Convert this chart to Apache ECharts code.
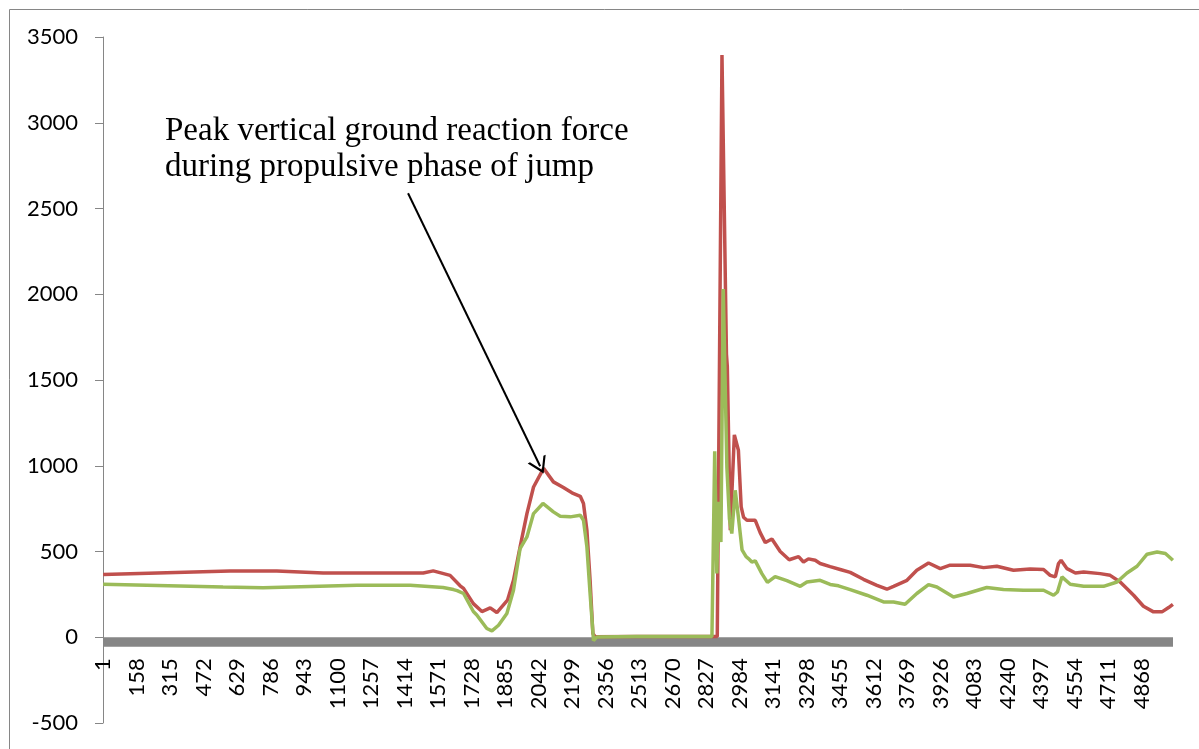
<!DOCTYPE html>
<html>
<head>
<meta charset="utf-8">
<script src="https://cdn.jsdelivr.net/npm/echarts@6/dist/echarts.min.js"></script>
<style>html,body{margin:0;padding:0;background:#fff}#c{width:1199px;height:749px}</style>
</head>
<body>
<div id="c"></div>
<script>
// sample count on category axis (samples 1..N)
const sampleCount = 5014;
const categories = Array.from({length: sampleCount}, (_, i) => String(i + 1));
const tickLabels = ['1','158','315','472','629','786','943','1100','1257','1414','1571','1728','1885','2042','2199','2356','2513','2670','2827','2984','3141','3298','3455','3612','3769','3926','4083','4240','4397','4554','4711','4868'];
const yTicks = {min: -500, max: 3500, step: 500};

// [sample index (0-based), force]
const redSeries = [
[0,366],[595,387],[814,387],[1031,375],[1500,375],[1547,387],[1626,361],[1673,300],[1689,285],[1735,196],[1775,150],[1814,171],[1845,144],[1895,216],[1923,332],[1954,527],[1986,721],[2017,876],[2064,985],[2110,906],[2157,873],[2197,842],[2236,822],[2251,780],[2267,624],[2282,332],[2295,22],[2306,3],[2500,5],[2700,4],[2878,5],[2900,3395],[2921,1650],[2925,1580],[2939,624],[2958,1180],[2977,1090],[2990,760],[3001,700],[3017,682],[3056,682],[3079,610],[3103,552],[3134,573],[3173,500],[3215,452],[3259,470],[3282,439],[3305,457],[3337,449],[3360,430],[3407,412],[3454,395],[3501,378],[3563,338],[3626,303],[3673,280],[3704,297],[3767,332],[3813,391],[3868,433],[3923,400],[3969,420],[4063,420],[4126,406],[4188,414],[4266,391],[4344,398],[4407,395],[4438,361],[4462,352],[4477,430],[4489,449],[4517,400],[4556,375],[4595,381],[4672,371],[4719,361],[4766,322],[4829,245],[4875,181],[4922,148],[4962,148],[4993,173],[5013,192]
];
const greenSeries = [
[0,309],[562,293],[750,288],[1190,303],[1439,303],[1593,290],[1642,278],[1659,272],[1689,255],[1735,150],[1751,130],[1798,51],[1822,37],[1853,70],[1892,138],[1923,274],[1954,517],[1986,585],[2017,721],[2061,780],[2110,731],[2142,706],[2189,702],[2236,711],[2251,682],[2267,527],[2282,255],[2298,-20],[2314,2],[2500,5],[2700,5],[2853,5],[2866,1085],[2876,372],[2884,790],[2895,555],[2906,2030],[2923,990],[2935,690],[2946,605],[2962,857],[2977,700],[2994,510],[3013,470],[3024,459],[3040,439],[3056,445],[3087,371],[3113,320],[3149,354],[3204,330],[3267,297],[3298,322],[3360,332],[3407,308],[3446,300],[3501,278],[3579,245],[3657,206],[3704,206],[3758,192],[3813,255],[3868,307],[3907,293],[3985,235],[4048,255],[4141,290],[4219,278],[4313,274],[4407,274],[4454,245],[4472,264],[4493,352],[4532,309],[4595,297],[4688,297],[4751,322],[4798,375],[4845,414],[4892,484],[4939,497],[4978,488],[5013,449]
];
// annotation arrow in data coordinates [sample index, force]
const arrowFrom = [1429, 2589];
const arrowTo = [2048, 997];
const annotationLines = ['Peak vertical ground reaction force', 'during propulsive phase of jump'];
const baseBand = [0, -56];

const tickSet = new Set(tickLabels);
const gridTop = 37, gridBottom = 26, chartH = 749;
const plotH = chartH - gridTop - gridBottom;
// move the category axis up from the bottom edge to the zero line
const zeroOffset = -plotH * (0 - yTicks.min) / (yTicks.max - yTicks.min);

const chart = echarts.init(document.getElementById('c'), null, {renderer: 'canvas'});
chart.setOption({
  animation: false,
  backgroundColor: '#fff',
  grid: {left: 103, right: 26, top: gridTop, bottom: gridBottom, containLabel: false, outerBoundsMode: 'none'},
  xAxis: {
    type: 'category',
    data: categories,
    boundaryGap: true,
    position: 'bottom',
    offset: zeroOffset,
    axisLine: {show: false, onZero: false},
    axisTick: {show: false},
    splitLine: {show: false},
    axisLabel: {
      rotate: 90,
      interval: (idx, val) => tickSet.has(val),
      margin: 21,
      fontSize: 22,
      fontFamily: 'Lato',
      color: '#000'
    }
  },
  yAxis: {
    type: 'value',
    min: yTicks.min, max: yTicks.max, interval: yTicks.step,
    axisLine: {show: true, onZero: false, lineStyle: {color: '#868686', width: 1}},
    axisTick: {show: true, length: 8, lineStyle: {color: '#868686'}},
    splitLine: {show: false},
    axisLabel: {margin: 25, fontSize: 22, fontFamily: 'Lato', color: '#000', formatter: v => String(v)}
  },
  graphic: [
    {type: 'rect', left: 7, top: 7, shape: {x: 0, y: 0, width: 1300, height: 900}, style: {fill: 'none', stroke: '#868686', lineWidth: 1}, silent: true, z: -1},
    {type: 'text', left: 165, top: 113, style: {text: annotationLines.join('\n'), font: '33px "Liberation Serif"', fill: '#000', lineHeight: 36}}
  ],
  series: [
    {
      name: 'base', type: 'line', data: [], z: 1, silent: true,
      markArea: {silent: true, itemStyle: {color: '#868686', opacity: 1}, data: [[{yAxis: baseBand[0]}, {yAxis: baseBand[1]}]]}
    },
    {
      name: 'A', type: 'line', data: redSeries, showSymbol: false, symbol: 'none', z: 3,
      lineStyle: {color: '#C0504D', width: 3.5}, itemStyle: {color: '#C0504D'},
      markLine: {
        silent: true, animation: false,
        symbol: ['none', 'path://M0,20 L10,0 L20,20 L17.5,20 L10,5 L2.5,20 Z'],
        symbolSize: [20, 16],
        label: {show: false},
        lineStyle: {color: '#000', width: 2, type: 'solid'},
        data: [[{coord: arrowFrom}, {coord: arrowTo}]]
      }
    },
    {
      name: 'B', type: 'line', data: greenSeries, showSymbol: false, symbol: 'none', z: 4,
      lineStyle: {color: '#9BBB59', width: 3.5}, itemStyle: {color: '#9BBB59'}
    }
  ]
});
</script>
</body>
</html>
